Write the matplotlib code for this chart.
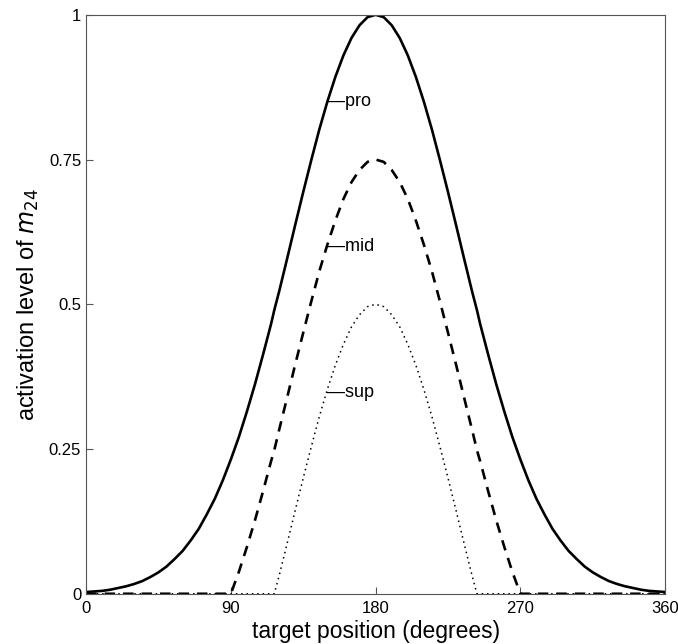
import matplotlib
matplotlib.use("Agg")
import matplotlib.pyplot as plt

plt.rcParams['font.family'] = ['Liberation Sans', 'DejaVu Sans']

# target position (degrees), sampled from the figure
x_pos = [0, 5, 10, 15, 20, 25, 30, 35, 40, 45, 50, 55, 60, 65, 70, 75, 80, 85,
         90, 95, 100, 105, 110, 115, 117, 120, 125, 130, 135, 140, 145, 150,
         155, 160, 165, 170, 175, 180, 185, 190, 195, 200, 205, 210, 215, 220,
         225, 230, 235, 240, 243, 245, 250, 255, 260, 265, 270, 275, 280, 285,
         290, 295, 300, 305, 310, 315, 320, 325, 330, 335, 340, 345, 350, 355,
         360]

pro = [0.003, 0.004, 0.005, 0.007, 0.010, 0.013, 0.017, 0.022, 0.029, 0.037,
       0.047, 0.060, 0.074, 0.092, 0.112, 0.137, 0.164, 0.196, 0.232, 0.271,
       0.315, 0.362, 0.413, 0.466, 0.490, 0.522, 0.579, 0.637, 0.694, 0.749,
       0.802, 0.850, 0.893, 0.930, 0.960, 0.982, 0.996, 1.0,
       0.996, 0.982, 0.960, 0.930, 0.893, 0.850, 0.802, 0.749, 0.694, 0.637,
       0.579, 0.522, 0.490, 0.466, 0.413, 0.362, 0.315, 0.271, 0.232, 0.196,
       0.164, 0.137, 0.112, 0.092, 0.074, 0.060, 0.047, 0.037, 0.029, 0.022,
       0.017, 0.013, 0.010, 0.007, 0.005, 0.004, 0.003]

mid = [0, 0, 0, 0, 0, 0, 0, 0, 0, 0, 0, 0, 0, 0, 0, 0, 0, 0,
       0, 0.038, 0.081, 0.127, 0.177, 0.229, 0.248, 0.283, 0.339, 0.396,
       0.451, 0.505, 0.557, 0.603, 0.645, 0.682, 0.711, 0.732, 0.746, 0.75,
       0.746, 0.732, 0.711, 0.682, 0.645, 0.603, 0.557, 0.505, 0.451, 0.396,
       0.339, 0.283, 0.248, 0.229, 0.177, 0.127, 0.081, 0.038, 0,
       0, 0, 0, 0, 0, 0, 0, 0, 0, 0, 0, 0, 0, 0, 0, 0, 0, 0]

sup = [0, 0, 0, 0, 0, 0, 0, 0, 0, 0, 0, 0, 0, 0, 0, 0, 0, 0,
       0, 0, 0, 0, 0, 0, 0, 0.031, 0.087, 0.144, 0.200, 0.254, 0.306, 0.353,
       0.395, 0.431, 0.461, 0.482, 0.496, 0.5,
       0.496, 0.482, 0.461, 0.431, 0.395, 0.353, 0.306, 0.254, 0.200, 0.144,
       0.087, 0.031, 0, 0, 0, 0, 0, 0, 0,
       0, 0, 0, 0, 0, 0, 0, 0, 0, 0, 0, 0, 0, 0, 0, 0, 0, 0]

x_ticks = [0, 90, 180, 270, 360]
y_ticks = [0, 0.25, 0.5, 0.75, 1]
y_ticklabels = ['0', '0.25', '0.5', '0.75', '1']

fig = plt.figure(figsize=(6.78, 6.44), dpi=100)
ax = fig.add_axes([0.127, 0.078, 0.854, 0.899])

ax.plot(x_pos, pro, color='black', lw=1.9)
ax.plot(x_pos, mid, color='black', lw=1.9, dashes=(4, 3))
ax.plot(x_pos, sup, color='black', lw=1.1, dashes=(1, 2.5))

# curve labels with short leader lines
ax.text(150, 0.85, '\u2014pro', fontsize=13, va='center', ha='left')
ax.text(150, 0.60, '\u2014mid', fontsize=13, va='center', ha='left')
ax.text(150, 0.347, '\u2014sup', fontsize=13, va='center', ha='left')

ax.set_xlim(0, 360)
ax.set_ylim(0, 1)
ax.set_xticks(x_ticks)
ax.set_yticks(y_ticks)
ax.set_yticklabels(y_ticklabels)
ax.tick_params(direction='in', length=5, labelsize=12, color='#555555')
ax.tick_params(axis='x', pad=5)
for s in ax.spines.values():
    s.set_color('#555555')

ax.set_xlabel('target position (degrees)', fontsize=16.5, labelpad=3)
ax.set_ylabel('activation level of $m_{24}$', fontsize=17, labelpad=6)

fig.savefig('out.png', dpi=100)
